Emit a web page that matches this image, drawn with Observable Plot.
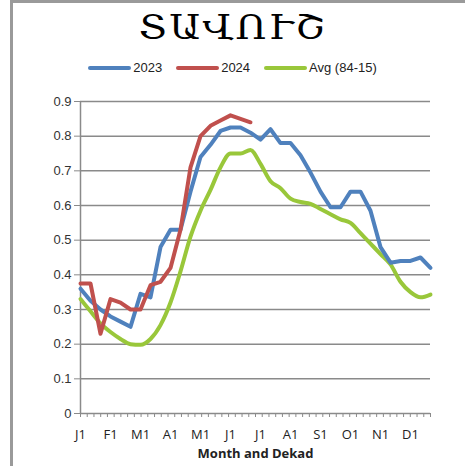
<!DOCTYPE html>
<html>
<head>
<meta charset="utf-8">
<script src="https://cdn.jsdelivr.net/npm/d3@7"></script>
<script src="https://cdn.jsdelivr.net/npm/@observablehq/plot@0.6"></script>
<style>
  html, body { margin: 0; padding: 0; background: #fff; }
  #wrap { position: relative; width: 465px; height: 466px; overflow: hidden; background: #fff; }
  #frameL { position: absolute; left: 10px; top: 0; width: 3px; height: 466px; background: #9a9a9a; }
  #frameT { position: absolute; left: 10px; top: 0; width: 455px; height: 3px; background: #9a9a9a; }
  #title { position: absolute; left: 0; width: 465px; top: 7px; text-align: center;
           font-family: "DejaVu Serif", serif; font-size: 34px; letter-spacing: 2px; color: #000; line-height: 40px;
           transform: scaleX(1.13); transform-origin: 232px 0; }
  #legend { position: absolute; left: 0; width: 465px; top: 60px; display: flex; justify-content: center;
            font-family: "Liberation Sans", Arial, sans-serif; font-size: 13px; color: #222; }
  .item { display: flex; align-items: center; margin: 0 7px; }
  .sw { width: 43px; height: 4px; margin-right: 2px; border-radius: 2px; }
  #chart { position: absolute; left: 0; top: 0; }
</style>
</head>
<body>
<div id="wrap">
  <div id="chart"></div>
  <div id="frameL"></div>
  <div id="frameT"></div>
  <div id="title">ՏԱՎՈՒՇ</div>
  <div id="legend"></div>
</div>
<script>
// Month labels (first dekad of each month)
const monthLabels = ["J1","F1","M1","A1","M1","J1","J1","A1","S1","O1","N1","D1"];
const seriesNames = ["2023", "2024", "Avg (84-15)"];
const seriesColors = ["#4f81bd", "#c0504d", "#99c73a"];

// Dekad values (36 dekads per year)
const v2023 = [0.36,0.325,0.30,0.28,0.265,0.25,0.345,0.335,0.48,0.53,0.53,0.64,
               0.74,0.775,0.815,0.825,0.825,0.81,0.79,0.82,0.78,0.78,0.745,0.695,
               0.64,0.595,0.595,0.64,0.64,0.585,0.48,0.435,0.44,0.44,0.45,0.42];
const v2024 = [0.375,0.375,0.23,0.33,0.32,0.30,0.30,0.37,0.38,0.42,0.53,0.71,
               0.80,0.83,0.845,0.86,0.85,0.84];
const vAvg  = [0.33,0.295,0.26,0.235,0.215,0.20,0.198,0.215,0.255,0.32,0.41,0.51,
               0.585,0.645,0.71,0.75,0.75,0.76,0.72,0.67,0.65,0.62,0.61,0.605,
               0.59,0.575,0.56,0.55,0.52,0.49,0.46,0.43,0.38,0.35,0.335,0.343];
const yTicks = [0,0.1,0.2,0.3,0.4,0.5,0.6,0.7,0.8,0.9];

const toRows = (arr, s) => arr.map((v, i) => ({dekad: i, value: v, series: s}));
const rows23 = toRows(v2023, seriesNames[0]);
const rows24 = toRows(v2024, seriesNames[1]);
const rowsAvg = toRows(vAvg, seriesNames[2]);

const nDekads = v2023.length;
const majorTicks = monthLabels.map((_, i) => i * 3);
const minorTicks = d3.range(0, nDekads - 1 + 1e-6, (nDekads - 1) / 52);

const plot = Plot.plot({
  width: 465,
  height: 466,
  marginLeft: 80,
  marginRight: 35,
  marginTop: 101,
  marginBottom: 53,
  style: {fontFamily: "Liberation Sans, Arial, sans-serif", fontSize: "13px", color: "#333", background: "transparent"},
  x: {domain: [0, nDekads - 1]},
  y: {domain: [0, 0.9]},
  marks: [
    Plot.gridY(yTicks.filter(d => d > 0), {stroke: "#8a8a8a", strokeOpacity: 1, strokeWidth: 1.5}),
    Plot.axisY(yTicks, {tickSize: 6, tickPadding: 3, stroke: "#8a8a8a", fill: "#333",
                        tickFormat: d => d === 0 ? "0" : d3.format(".1f")(d), label: null, fontSize: 13}),
    Plot.ruleX([0], {stroke: "#8a8a8a", strokeWidth: 1.5}),
    Plot.axisX(minorTicks, {tickSize: 4, tickFormat: () => "", stroke: "#8a8a8a", label: null}),
    Plot.axisX(majorTicks, {tickSize: 0, tickPadding: 16, tickFormat: d => monthLabels[d / 3],
                            fill: "#222", label: null, fontSize: 13,
                            fontFamily: "Open Sans, Liberation Sans, sans-serif"}),
    Plot.ruleY([0], {stroke: "#8a8a8a", strokeWidth: 1.5}),
    Plot.line(rowsAvg, {x: "dekad", y: "value", stroke: seriesColors[2], strokeWidth: 4, curve: "monotone-x"}),
    Plot.line(rows23, {x: "dekad", y: "value", stroke: seriesColors[0], strokeWidth: 4}),
    Plot.line(rows24, {x: "dekad", y: "value", stroke: seriesColors[1], strokeWidth: 4}),
    Plot.text(["Month and Dekad"], {frameAnchor: "bottom", dy: 44, fontWeight: "bold", fontSize: 13,
                                   fill: "#222", fontFamily: "Open Sans, Liberation Sans, sans-serif"})
  ]
});
document.getElementById("chart").appendChild(plot);

const legend = document.getElementById("legend");
seriesNames.forEach((name, i) => {
  const item = document.createElement("div");
  item.className = "item";
  const sw = document.createElement("div");
  sw.className = "sw";
  sw.style.background = seriesColors[i];
  const t = document.createElement("span");
  t.textContent = name;
  item.appendChild(sw);
  item.appendChild(t);
  legend.appendChild(item);
});
</script>
</body>
</html>
